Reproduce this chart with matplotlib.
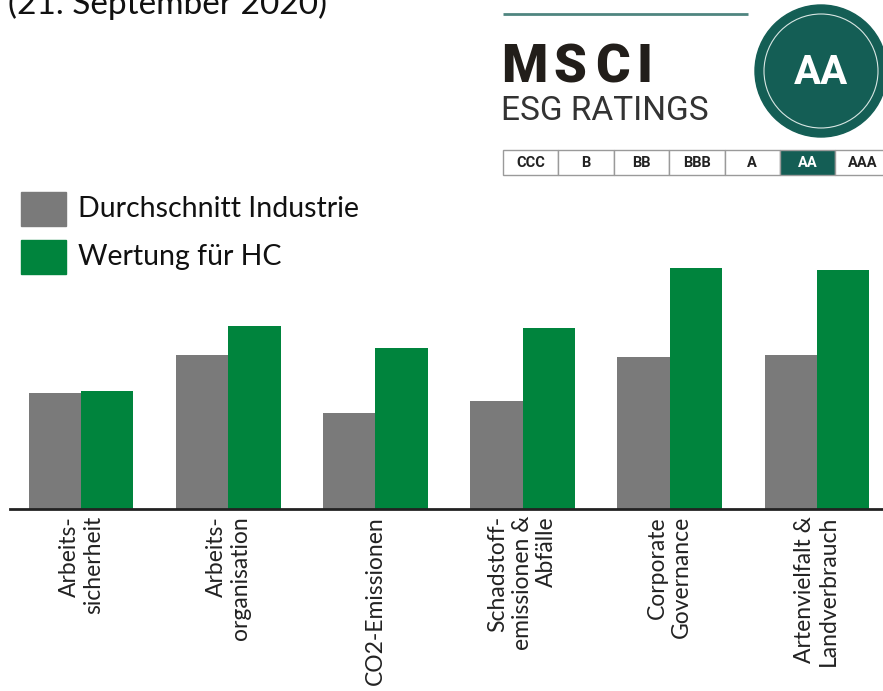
import numpy as np
import matplotlib.pyplot as plt
from matplotlib.patches import Circle, Rectangle

kategorien = ["Arbeits-\nsicherheit", "Arbeits-\norganisation", "CO2-Emissionen",
              "Schadstoff-\nemissionen &\nAbfälle", "Corporate\nGovernance",
              "Artenvielfalt &\nLandverbrauch"]
durchschnitt = [4.8, 6.4, 4.0, 4.5, 6.3, 6.4]
wertung_hc = [4.9, 7.6, 6.7, 7.5, 10.0, 9.9]
ratings = ["CCC", "B", "BB", "BBB", "A", "AA", "AAA"]

grau = "#7a7a7a"
gruen = "#00843d"
teal = "#145e55"
schrift = "Lato"

W, H = 883, 691
fig = plt.figure(figsize=(W / 100, H / 100), dpi=100)

# Balken
ax = fig.add_axes([10 / W, 1 - 509 / H, (W - 10) / W, 241 / H])
ax.patch.set_visible(False)
x = np.arange(len(kategorien))
b = 0.354
ax.bar(x - b / 2, durchschnitt, b, color=grau, label="Durchschnitt Industrie")
ax.bar(x + b / 2, wertung_hc, b, color=gruen, label="Wertung für HC")
ax.set_xlim(-0.486, 5.452)
ax.set_ylim(0, 10)
ax.set_yticks([])
for s in ["top", "left", "right"]:
    ax.spines[s].set_visible(False)
ax.spines["bottom"].set_linewidth(2)
ax.spines["bottom"].set_color("#222222")
ax.set_xticks(x)
ax.set_xticklabels(kategorien, rotation=90, va="top", ha="center",
                   multialignment="right", fontsize=16.5, family=schrift,
                   color="#222222")
ax.tick_params(axis="x", length=0, pad=5)

# Overlay in Pixelkoordinaten fuer Titel, Legende und Logo
ov = fig.add_axes([0, 0, 1, 1], zorder=-1)
ov.set_xlim(0, W)
ov.set_ylim(H, 0)
ov.axis("off")

ov.text(8, 14, "(21. September 2020)", fontsize=24, family=schrift,
        va="baseline", ha="left", color="#111111")

# Legende
for i, (farbe, name) in enumerate([(grau, "Durchschnitt Industrie"), (gruen, "Wertung für HC")]):
    y0 = 192 + i * 48
    ov.add_patch(Rectangle((21, y0), 45, 34, color=farbe))
    ov.text(78, y0 + 17, name, fontsize=20.5, family=schrift, va="center",
            ha="left", color="#111111")

# MSCI Logo
ov.plot([503, 748], [14, 14], color="#4f8580", lw=2, solid_capstyle="butt")
for buchstabe, xb in zip("MSCI", [501, 553, 595, 636]):
    ov.text(xb, 82, buchstabe, fontsize=38, fontweight="black", family="Roboto",
            color="#221e1a", va="baseline", ha="left")
ov.text(501, 120, "ESG RATINGS", fontsize=24, family="Roboto",
        color="#333333", va="baseline", ha="left")
ov.add_patch(Circle((821, 71), 66, color=teal))
ov.add_patch(Circle((821, 71), 57, fill=False, edgecolor="#d8e6e3", lw=0.8))
ov.text(821, 73, "AA", fontsize=29, fontweight="bold", family="Roboto",
        color="white", va="center", ha="center")

links = 503
breite = 55.4
for i, r in enumerate(ratings):
    x0 = links + i * breite
    aktiv = r == "AA"
    ov.add_patch(Rectangle((x0, 150), breite, 25, facecolor=teal if aktiv else "white",
                           edgecolor="#9a9a9a", lw=1))
    ov.text(x0 + breite / 2, 163, r, fontsize=10.5, fontweight="bold", family="Roboto",
            color="white" if aktiv else "#222222", va="center", ha="center")

fig.savefig("out.png", dpi=100)
